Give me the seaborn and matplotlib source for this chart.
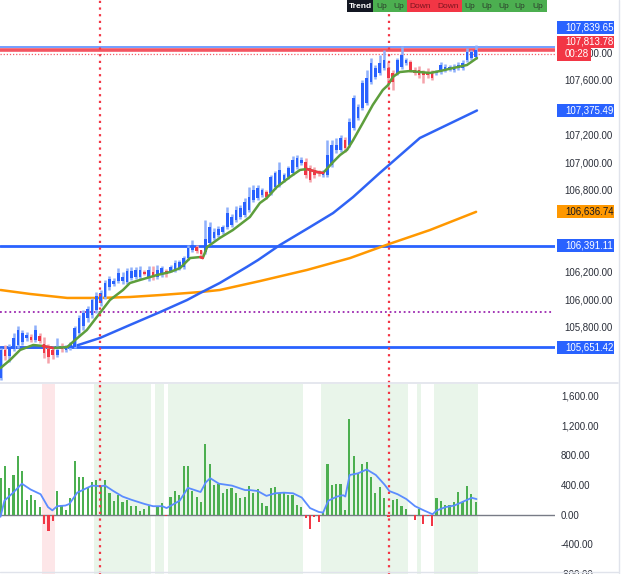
import numpy as np
import pandas as pd
import matplotlib
matplotlib.use("Agg")
import matplotlib.pyplot as plt
import matplotlib.transforms as mtransforms
from matplotlib.patches import Rectangle
from matplotlib.lines import Line2D
import seaborn as sns

# ---------------- data ----------------
opens = [105425,105630,105586,105637,105666,105688,105717,105724,105702,105732,
 105673,105637,105630,105593,105651,105630,105644,105651,105753,105804,
 105863,105885,105921,105972,106016,106089,106111,106132,106132,106125,
 106154,106162,106162,106198,106162,106198,106162,106176,106205,106205,
 106213,106227,106235,106300,106358,106380,106358,106344,106410,106446,
 106468,106490,106526,106541,106577,106599,106614,106650,106723,106738,
 106759,106781,106774,106818,106832,106869,106891,106920,106964,106993,
 107000,106956,106942,106927,106905,106905,106978,107088,107088,107160,
 107124,107248,107321,107394,107430,107583,107620,107649,107685,107685,
 107649,107649,107693,107722,107729,107671,107671,107656,107656,107656,
 107649,107656,107671,107678,107671,107685,107685,107744,107758,107765]
highs = [105644,105666,105673,105753,105804,105775,105761,105746,105812,105753,
 105724,105673,105659,105717,105681,105666,105688,105804,105885,105921,
 105950,106009,106052,106067,106140,106169,106154,106227,106198,106227,
 106235,106235,106242,106213,106242,106242,106249,106242,106220,106249,
 106286,106286,106315,106395,106431,106395,106358,106577,106563,106519,
 106533,106541,106672,106621,106679,106687,106738,106818,106832,106832,
 106810,106796,106905,106934,107000,106920,106971,107044,107051,107036,
 107029,106978,106964,106942,106942,107160,107160,107175,107197,107182,
 107321,107488,107423,107598,107671,107758,107707,107780,107817,107729,
 107671,107758,107846,107758,107744,107693,107700,107671,107685,107671,
 107671,107729,107714,107707,107714,107729,107744,107831,107817,107853]
lows = [105411,105557,105542,105622,105644,105666,105695,105688,105688,105681,
 105571,105535,105564,105578,105615,105615,105630,105644,105732,105775,
 105834,105863,105899,105950,106001,106067,106096,106118,106111,106111,
 106140,106147,106147,106176,106132,106140,106147,106162,106162,106198,
 106198,106213,106220,106286,106344,106337,106315,106329,106395,106431,
 106453,106475,106512,106526,106563,106585,106599,106636,106708,106723,
 106745,106730,106759,106803,106818,106854,106876,106905,106949,106978,
 106883,106854,106883,106898,106891,106891,106964,107066,107073,107073,
 107109,107233,107306,107379,107416,107569,107605,107634,107671,107547,
 107525,107634,107678,107707,107656,107634,107612,107576,107612,107598,
 107634,107641,107656,107663,107656,107671,107671,107729,107744,107751]
closes = [105630,105586,105651,105717,105775,105753,105739,105702,105775,105695,
 105608,105578,105593,105630,105637,105651,105673,105790,105863,105899,
 105928,105994,106023,106045,106118,106147,106132,106191,106162,106205,
 106205,106213,106213,106183,106213,106169,106213,106227,106183,106235,
 106264,106271,106300,106373,106395,106351,106329,106439,106526,106490,
 106512,106526,106628,106599,106650,106665,106708,106745,106796,106810,
 106796,106745,106891,106920,106942,106905,106956,107015,107029,107015,
 106905,106869,106905,106920,106927,107051,107124,107124,107175,107102,
 107292,107467,107401,107576,107612,107722,107685,107722,107744,107612,
 107583,107744,107780,107744,107671,107649,107634,107634,107634,107612,
 107656,107707,107693,107693,107693,107707,107722,107802,107802,107813.78]

ema_idx = [0,2.2,4.5,7.5,9.7,12.0,15.3,17.1,19.8,22.8,25.1,28.1,29.7,32.0,35.9,
 38.9,41.2,43.5,45.8,46.4,47.4,50.3,53.3,57.2,59.5,61.1,63.4,66.4,68.7,70.3,
 72.6,74.0,76.3,77.9,79.5,80.9,83.1,85.4,87.7,88.9,90.0,91.6,93.9,96.2,98.5,
 100.8,103.8,107.0,109.3]
ema_val = [105498,105557,105630,105666,105659,105644,105651,105702,105775,105899,
 105994,106067,106118,106140,106176,106198,106227,106300,106307,106300,
 106380,106446,106504,106599,106701,106738,106818,106891,106942,106949,
 106927,106920,107000,107051,107088,107160,107284,107416,107525,107561,
 107620,107656,107663,107656,107649,107663,107685,107707,107758]

ma_mid_idx = [0,9.1,16.4,22.8,29.7,36.6,42.8,45.8,50.3,56.5,59.1,64.1,71.0,76.3,
 80.9,87.0,88.6,96.2,109.3]
ma_mid_val = [105645,105648,105651,105717,105812,105906,105994,106045,106118,
 106235,106286,106395,106526,106628,106745,106920,106964,107175,107375.49]

ma_long_idx = [0,6.8,15.3,22.8,29.7,36.6,45.8,50.3,59.5,70.3,80.2,89.1,98.5,109.1]
ma_long_val = [106067,106038,106009,106009,106016,106030,106052,106067,106132,
 106213,106300,106402,106504,106636.74]

osc = [489,650,359,528,783,584,195,264,195,108,
 -130,-225,-82,316,130,56,225,718,511,511,
 368,433,459,381,467,286,186,264,173,199,
 117,117,43,69,112,-13,100,151,-26,238,
 316,264,649,649,316,238,173,952,675,402,
 415,294,350,359,286,225,238,381,286,337,
 151,112,359,372,294,307,268,268,134,104,
 -52,-195,-39,-104,35,675,398,411,415,61,
 1290,792,554,675,701,511,286,372,225,-30,
 195,203,117,69,-13,-69,69,-121,-17,-160,
 225,182,130,130,164,303,164,381,277,164]

sig_idx = [0,0.9,2.9,4.9,6.9,9.2,10.9,11.9,13.0,14.9,15.8,17.6,19.9,21.0,22.9,
 24.0,25.9,28.0,30.0,33.0,35.0,37.1,38.1,39.8,41.1,43.0,45.9,47.1,48.1,50.1,
 53.1,56.1,57.2,59.0,61.0,63.0,65.0,67.1,69.1,71.0,73.0,74.0,75.2,77.2,78.6,
 79.1,80.1,82.0,84.0,86.1,88.1,89.2,91.1,93.1,95.1,97.1,99.1,100.1,102.1,
 104.1,106.1,108.1,109.2]
sig_val = [-30,186,294,415,337,273,100,56,112,121,143,294,359,389,381,
 389,316,242,199,143,112,112,87,143,186,359,303,433,489,415,
 389,329,329,316,251,286,294,286,229,87,35,26,186,242,260,
 242,532,554,606,532,402,316,273,208,112,56,4,56,100,
 121,173,225,208]

shade_up_start = [22, 36, 39, 74, 96, 100]
shade_up_end = [34, 37, 69, 93, 96, 109]
shade_dn_start = [10]
shade_dn_end = [12]

level_lines = [106391.11, 105651.42]
top_level = 107839.65
last_price = 107813.78
prev_level = 107787
purple_level = 105904
marker_bars = [22.8, 89.1]
countdown = "00:28"
trend_header = "Trend"
trend_labels = ["Up", "Up", "Down", "Down", "Up", "Up", "Up", "Up", "Up"]

# price-scale ticks whose labels are not covered by a price box
main_ticks = [105800, 106000, 106200, 106800, 107000, 107200, 107600, 107800]
osc_ticks = [-800, -400, 0, 400, 800, 1200, 1600]

# ---------------- style ----------------
sns.set_theme(style="white")
plt.rcParams['font.family'] = ['Liberation Sans', 'DejaVu Sans']

BLUE = '#2962ff'
RED = '#f23645'
GREEN = '#4caf50'
ORANGE = '#ff9800'
W, H = 625, 574

fig = plt.figure(figsize=(W / 100, H / 100), dpi=100)
fig.patch.set_facecolor('white')
ax = fig.add_axes([0, 1 - 383 / H, 555 / W, 383 / H])
ax2 = fig.add_axes([0, 0, 555 / W, 190 / H], sharex=ax)

N = len(closes)
xs = np.arange(N)
ax.set_xlim(-0.115, 127.2)
ax.set_ylim(105389, 108181)
ax2.set_ylim(-710, 1756)
upp = (108181 - 105389) / 383.0  # price units per pixel

df = pd.DataFrame({'x': xs, 'o': opens, 'h': highs, 'l': lows, 'c': closes})
df['up'] = df['c'] >= df['o']

# ---------- main panel ----------
ax.axhline(top_level, color='#5b8cff', lw=1.2, zorder=3)
ax.axhline(last_price, color=RED, lw=2.6, alpha=0.85, zorder=3)
ax.axhline(prev_level, color=RED, lw=0.9, ls=(0, (1, 1.5)), alpha=0.8, zorder=3)
for lv in level_lines:
    ax.axhline(lv, color=BLUE, lw=2.0, zorder=3)
ax.axhline(purple_level, xmax=553 / 555, color='#9c27b0', lw=1.3, ls=(0, (1, 1.6)), zorder=3)

sns.lineplot(x=ma_long_idx, y=ma_long_val, ax=ax, color=ORANGE, lw=1.8, zorder=4)
sns.lineplot(x=ma_mid_idx, y=ma_mid_val, ax=ax, color='#2f63f5', lw=1.8, zorder=4)

# candles
wick_col = np.where(df['up'], '#8fb0fb', '#f5a3ab')
body_col = np.where(df['up'], BLUE, RED)
ax.vlines(df['x'], df['l'], df['h'], colors=wick_col, lw=1.8, zorder=5)
body_h = np.maximum((df['c'] - df['o']).abs(), 1.3 * upp)
body_b = np.minimum(df['c'], df['o'])
ax.bar(df['x'], body_h, bottom=body_b, width=0.62, color=body_col, lw=0, zorder=6)

# short EMA (green, red while falling)
sns.lineplot(x=ema_idx, y=ema_val, ax=ax, color='#5d9e3c', lw=1.8, zorder=7)
for i in range(len(ema_idx) - 1):
    slope = (ema_val[i + 1] - ema_val[i]) / (ema_idx[i + 1] - ema_idx[i])
    if slope < -4:
        ax.plot(ema_idx[i:i + 2], ema_val[i:i + 2], color=RED, lw=1.8, zorder=7.5)

for b in marker_bars:
    ax.axvline(b, color=RED, lw=1.6, ls=(0, (1, 2)), zorder=8)
    ax2.axvline(b, color=RED, lw=1.6, ls=(0, (1, 2)), zorder=8)

ax.set_xticks([])
ax.yaxis.tick_right()
ax.set_yticks(main_ticks)
ax.set_yticklabels([f"{t:,.2f}" for t in main_ticks])
ax.tick_params(axis='y', length=0, pad=7, labelsize=7, labelcolor='#2a2e39')
ax.set_xlabel('')
ax.set_ylabel('')

# ---------- oscillator panel ----------
for s, e in zip(shade_up_start, shade_up_end):
    ax2.axvspan(s - 0.5, e + 0.5, color='#e9f5ea', lw=0, zorder=0)
for s, e in zip(shade_dn_start, shade_dn_end):
    ax2.axvspan(s - 0.5, e + 0.5, color='#fde6e8', lw=0, zorder=0)
ax2.axhline(0, color='#787b86', lw=1.0, zorder=2)
osc_col = [GREEN if v >= 0 else RED for v in osc]
ax2.bar(xs, osc, width=0.5, color=osc_col, lw=0, zorder=3)
sns.lineplot(x=sig_idx, y=sig_val, ax=ax2, color='#5b8cff', lw=1.3, zorder=4)
ax2.yaxis.tick_right()
ax2.set_yticks(osc_ticks)
ax2.set_yticklabels([f"{t:,.2f}" for t in osc_ticks])
ax2.tick_params(axis='y', length=0, pad=4.3, labelsize=7, labelcolor='#2a2e39')
ax2.tick_params(axis='x', length=0, labelbottom=False)
ax2.set_xlabel('')
ax2.set_ylabel('')

for a in (ax, ax2):
    for sp in a.spines.values():
        sp.set_visible(False)
    a.set_facecolor('white')
    a.grid(False)

# ---------- price labels on the scale ----------
blend = mtransforms.blended_transform_factory(fig.transFigure, ax.transData)

def price_box(yval, text, fc, tc, dy_px=0.0, w_px=57, h_px=13):
    yc = yval + dy_px * upp
    fig.add_artist(Rectangle((557 / W, yc - h_px / 2 * upp), w_px / W, h_px * upp,
                             transform=blend, facecolor=fc, edgecolor='none', zorder=20))
    fig.text(565 / W, yc, text, transform=blend, ha='left', va='center',
             fontsize=7, color=tc, zorder=21)

price_box(top_level, f"{top_level:,.2f}", BLUE, 'white', dy_px=19.5)
price_box(last_price, f"{last_price:,.2f}", RED, 'white', dy_px=8.4, h_px=12.5)
price_box(last_price, countdown, RED, 'white', dy_px=-4.1, w_px=34, h_px=12.5)
price_box(ma_mid_val[-1], f"{ma_mid_val[-1]:,.2f}", BLUE, 'white')
price_box(ma_long_val[-1], f"{ma_long_val[-1]:,.2f}", ORANGE, '#131722')
for lv in level_lines:
    price_box(lv, f"{lv:,.2f}", BLUE, 'white')

# ---------- trend table ----------
cells = [(347, 373, '#131722', trend_header, 'white')]
edges = [373, 390, 407, 434, 462, 478, 495, 512, 528, 547]
for k, lab in enumerate(trend_labels):
    fc = GREEN if lab == "Up" else RED
    tc = '#2b3a2b' if lab == "Up" else '#7c1520'
    cells.append((edges[k], edges[k + 1], fc, lab, tc))
for x0, x1, fc, lab, tc in cells:
    fig.add_artist(Rectangle((x0 / W, 1 - 12 / H), (x1 - x0) / W, 12 / H,
                             transform=fig.transFigure, facecolor=fc, edgecolor='none', zorder=15))
    fig.text((x0 + x1) / 2 / W, 1 - 6.2 / H, lab, ha='center', va='center', fontsize=6,
             color=tc, fontweight='bold' if lab == trend_header else 'normal', zorder=16)

# ---------- frame lines ----------
fig.add_artist(Line2D([618.5 / W, 618.5 / W], [0, 1], transform=fig.transFigure,
                      color='#e0e3eb', lw=1.0, zorder=30))
fig.add_artist(Line2D([0, 618 / W], [1 - 383 / H, 1 - 383 / H], transform=fig.transFigure,
                      color='#e0e3eb', lw=1.2, zorder=30))
fig.add_artist(Line2D([0, 618 / W], [1 - 571.5 / H, 1 - 571.5 / H], transform=fig.transFigure,
                      color='#e0e3eb', lw=1.0, zorder=30))

fig.savefig('out.png', dpi=100)
